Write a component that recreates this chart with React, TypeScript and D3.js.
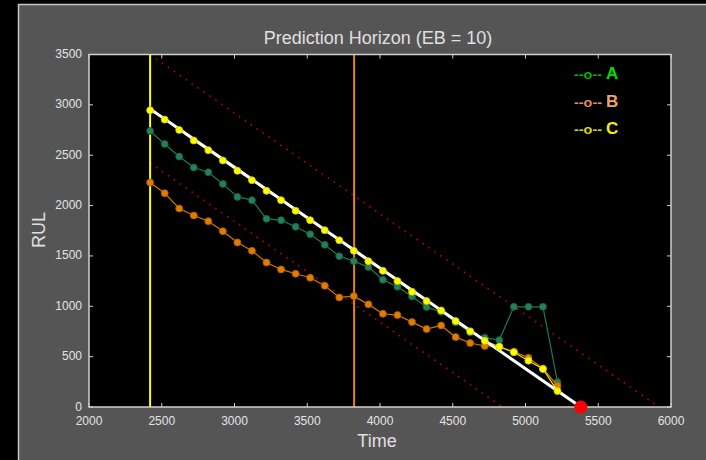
import React from "react";
import * as d3 from "d3";

const times = [2420, 2520, 2620, 2720, 2820, 2920, 3020, 3120, 3220, 3320, 3420, 3520, 3620, 3720, 3820, 3920, 4020, 4120, 4220, 4320, 4420, 4520, 4620, 4720, 4820, 4920, 5020, 5120, 5220];
const seriesA = [2741, 2612, 2487, 2378, 2331, 2215, 2086, 2054, 1868, 1855, 1789, 1716, 1610, 1498, 1448, 1389, 1263, 1194, 1098, 992, 945, 840, 740, 688, 665, 995, 995, 995, 248];
const seriesB = [2229, 2123, 1971, 1902, 1845, 1745, 1634, 1551, 1435, 1366, 1323, 1283, 1203, 1088, 1101, 1019, 926, 913, 843, 774, 810, 694, 635, 606, 600, 550, 489, 382, 211];
const seriesC = [2946, 2854, 2751, 2646, 2550, 2448, 2345, 2252, 2146, 2054, 1948, 1855, 1756, 1655, 1551, 1448, 1352, 1250, 1144, 1052, 959, 853, 751, 658, 598, 543, 460, 377, 158];
const trueRUL = [[2420, 2960], [5380, 0]];
const upperBound = [[2420, 3498], [5918, 0]];
const lowerBound = [[2420, 2422], [4842, 0]];
const predStart = 2420;
const predEnd = 3822;
const eol = [5380, 0];
const xTicks = [2000, 2500, 3000, 3500, 4000, 4500, 5000, 5500, 6000];
const yTicks = [0, 500, 1000, 1500, 2000, 2500, 3000, 3500];
const legendNames = ["A", "B", "C"];
const title = "Prediction Horizon (EB = 10)";

const W = 706, H = 460;
const L = 89, R = 671, T = 54.5, B = 407;
const FONT = "'Liberation Sans', Arial, sans-serif";

export default function App() {
  const x = d3.scaleLinear().domain([2000, 6000]).range([L, R]);
  const y = d3.scaleLinear().domain([0, 3500]).range([B, T]);
  const line = d3.line<[number, number]>().x(d => x(d[0])).y(d => y(d[1]));
  const pts = (vals: number[]) => times.map((t, i) => [t, vals[i]] as [number, number]);

  const series = [
    { vals: seriesA, line: "#1f7a4f", fill: "#23805a", stroke: "#165c3c", legLine: "#00b400", legText: "#00dd00" },
    { vals: seriesB, line: "#d87400", fill: "#e07c00", stroke: "#a85c00", legLine: "#e0905a", legText: "#f0a070" },
    { vals: seriesC, line: "#e8e800", fill: "#ffff00", stroke: "#c8c800", legLine: "#dcdc00", legText: "#f0f000" },
  ];

  return (
    <svg width={W} height={H} style={{ position: "absolute", left: 0, top: 0, display: "block" }}>
      <defs>
        <clipPath id="plotclip">
          <rect x={L} y={T} width={R - L} height={B - T} />
        </clipPath>
      </defs>
      <rect x={0} y={0} width={W} height={H} fill="#000" />
      <rect x={18} y={4} width={W - 18} height={H - 4} fill="#555555" />
      <line x1={18.5} y1={4} x2={18.5} y2={H} stroke="#c8c8c8" strokeWidth={1.5} />
      <line x1={18} y1={4.5} x2={W} y2={4.5} stroke="#c8c8c8" strokeWidth={1.5} />

      <rect x={L} y={T} width={R - L} height={B - T} fill="#000" />

      <g clipPath="url(#plotclip)">
        <path d={line(upperBound as [number, number][]) || ""} stroke="#c00000" strokeWidth={1.6} strokeDasharray="1.6,5.6" fill="none" />
        <path d={line(lowerBound as [number, number][]) || ""} stroke="#c00000" strokeWidth={1.6} strokeDasharray="1.6,5.6" fill="none" />
        <line x1={x(predStart)} x2={x(predStart)} y1={T} y2={B} stroke="#ffff00" strokeWidth={2} />
        <line x1={x(predEnd)} x2={x(predEnd)} y1={T} y2={B} stroke="#e58600" strokeWidth={2} />

        {series.slice(0, 2).map((s, si) => (
          <g key={si}>
            <path d={line(pts(s.vals)) || ""} stroke={s.line} strokeWidth={1.2} fill="none" />
            {pts(s.vals).map((p, i) => (
              <circle key={i} cx={x(p[0])} cy={y(p[1])} r={3.5} fill={s.fill} stroke={s.stroke} strokeWidth={0.8} />
            ))}
          </g>
        ))}
        <path d={line(pts(seriesC)) || ""} stroke={series[2].line} strokeWidth={1.2} fill="none" />
        <path d={line(trueRUL as [number, number][]) || ""} stroke="#ffffff" strokeWidth={3} fill="none" />
        {pts(seriesC).map((p, i) => (
          <circle key={i} cx={x(p[0])} cy={y(p[1])} r={3.5} fill={series[2].fill} stroke={series[2].stroke} strokeWidth={0.8} />
        ))}
      </g>

      <rect x={L} y={T} width={R - L} height={B - T} fill="none" stroke="#d0d0d0" strokeWidth={1.5} />
      {xTicks.map(t => (
        <g key={"x" + t}>
          <line x1={x(t)} x2={x(t)} y1={B} y2={B - 4} stroke="#d0d0d0" strokeWidth={1} />
          <line x1={x(t)} x2={x(t)} y1={T} y2={T + 4} stroke="#d0d0d0" strokeWidth={1} />
          <text x={x(t)} y={424.5} fill="#e4e4e4" fontSize={12} fontFamily={FONT} textAnchor="middle">{t}</text>
        </g>
      ))}
      {yTicks.map(t => (
        <g key={"y" + t}>
          <line x1={L} x2={L + 4} y1={y(t)} y2={y(t)} stroke="#d0d0d0" strokeWidth={1} />
          <line x1={R} x2={R - 4} y1={y(t)} y2={y(t)} stroke="#d0d0d0" strokeWidth={1} />
          <text x={82} y={y(t) + 3.5} fill="#e4e4e4" fontSize={12} fontFamily={FONT} textAnchor="end">{t}</text>
        </g>
      ))}

      <circle cx={x(eol[0])} cy={y(eol[1])} r={6.5} fill="#ff0000" />

      {legendNames.map((n, i) => (
        <g key={n}>
          <text x={574} y={79 + i * 27.5} fill={series[i].legLine} fontSize={12} fontWeight="bold" fontFamily={FONT} textLength={28} lengthAdjust="spacingAndGlyphs">--o--</text>
          <text x={606} y={79 + i * 27.5} fill={series[i].legText} fontSize={17} fontWeight="bold" fontFamily={FONT}>{n}</text>
        </g>
      ))}

      <text x={378} y={43.5} fill="#e0e0e0" fontSize={18} fontFamily={FONT} textAnchor="middle">{title}</text>
      <text x={377} y={447} fill="#e0e0e0" fontSize={18} fontFamily={FONT} textAnchor="middle">Time</text>
      <text transform="translate(45,230) rotate(-90)" fill="#e0e0e0" fontSize={18} fontFamily={FONT} textAnchor="middle">RUL</text>
    </svg>
  );
}
